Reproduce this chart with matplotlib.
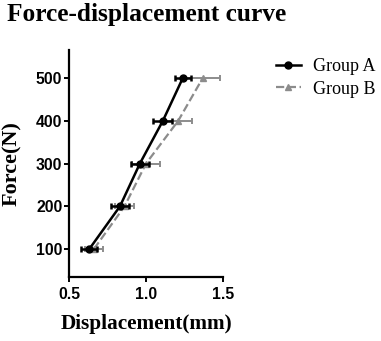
import matplotlib.pyplot as plt
from matplotlib.lines import Line2D

# data
force = [100, 200, 300, 400, 500]
disp_a = [0.63, 0.83, 0.96, 1.11, 1.24]
err_a = [0.052, 0.06, 0.06, 0.062, 0.054]
disp_b = [0.66, 0.86, 1.00, 1.21, 1.37]
err_b = [0.06, 0.063, 0.09, 0.087, 0.113]

serif = 'Liberation Serif'
sans = 'Liberation Sans'
grey = '#8c8c8c'

fig = plt.figure(figsize=(3.81, 3.41), dpi=100)
ax = fig.add_axes([0.182, 0.188, 0.4026, 0.665])

# group B under group A
ax.errorbar(disp_b, force, xerr=err_b, color=grey, ecolor=grey,
            linestyle='--', linewidth=1.6, marker='^', markersize=5,
            elinewidth=1.4, capsize=2.5, capthick=1.4, zorder=2)
ax.errorbar(disp_a, force, xerr=err_a, color='black', ecolor='black',
            linestyle='-', linewidth=1.8, marker='o', markersize=5,
            elinewidth=1.8, capsize=2.5, capthick=1.8, zorder=3)

ax.set_xlim(0.5, 1.5)
ax.set_ylim(35, 565)
ax.set_xticks([0.5, 1.0, 1.5])
ax.set_yticks(force)
ax.spines['top'].set_visible(False)
ax.spines['right'].set_visible(False)
for s in ['left', 'bottom']:
    ax.spines[s].set_linewidth(1.6)
ax.tick_params(width=1.4, length=3.6, pad=1.5)
ax.tick_params(axis='x', pad=4)
for lab in ax.get_xticklabels() + ax.get_yticklabels():
    lab.set_fontfamily(sans)
    lab.set_fontweight('bold')
    lab.set_fontsize(11.3)

ax.set_xlabel('Displacement(mm)', fontfamily=serif, fontweight='bold',
              fontsize=15.3, labelpad=8)
ax.set_ylabel('Force(N)', fontfamily=serif, fontweight='bold', fontsize=16)
ax.yaxis.set_label_coords(-0.305, 0.5)

fig.text(0.018, 0.99, 'Force-displacement curve', fontfamily=serif,
         fontweight='bold', fontsize=18.3, va='top', ha='left')

handles = [Line2D([], [], color='black', lw=1.8, marker='o', markersize=5),
           Line2D([], [], color=grey, lw=1.6, ls='--', marker='^', markersize=5)]
fig.legend(handles, ['Group A', 'Group B'], loc='upper left',
           bbox_to_anchor=(0.705, 0.85), frameon=False,
           prop={'family': serif, 'size': 13}, handlelength=1.4,
           handletextpad=0.65, labelspacing=0.3, borderaxespad=0)

fig.savefig('out.png', dpi=100)
